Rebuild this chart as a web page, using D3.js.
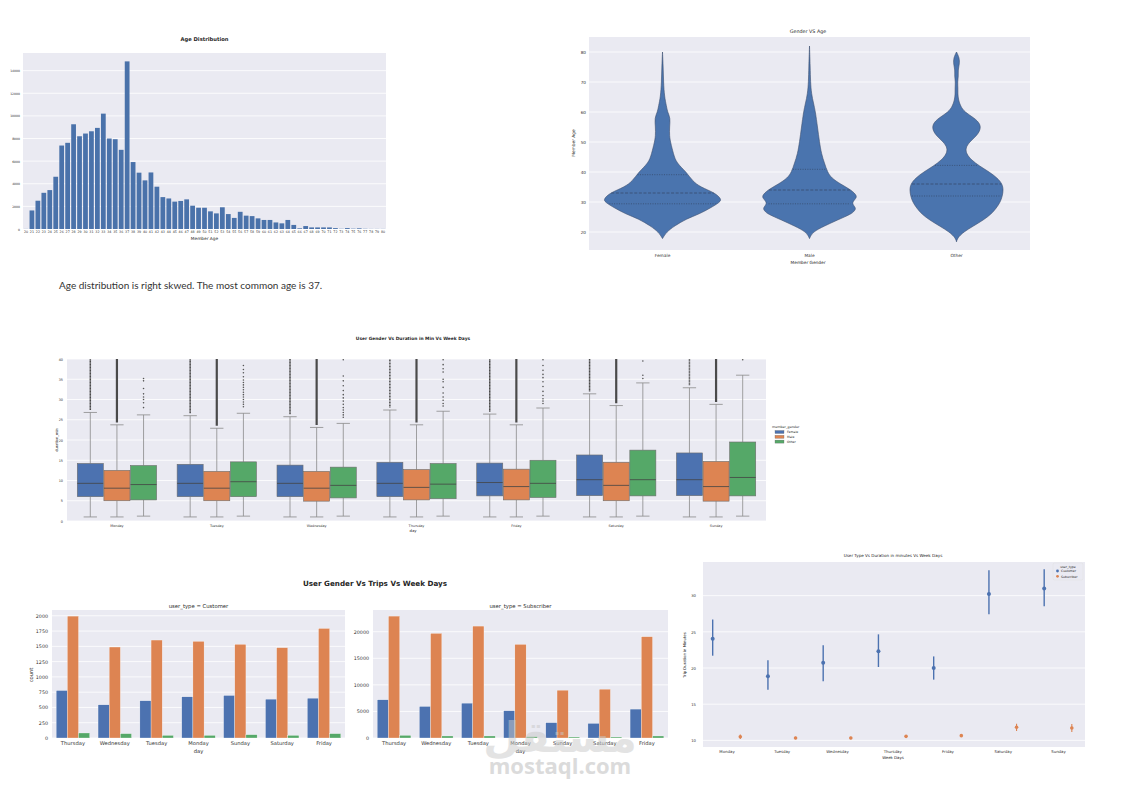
<!DOCTYPE html>
<html><head><meta charset="utf-8">
<script src="https://cdn.jsdelivr.net/npm/d3@7"></script>
<style>body{margin:0;background:#fff}svg{display:block}</style>
</head><body>
<svg id="c" width="1122" height="793"></svg>
<script>
// ---------------- DATA ----------------
// Age distribution
const ageCats = [20,21,22,23,24,25,26,27,28,29,30,31,32,33,34,35,36,37,38,39,40,41,42,43,44,45,46,47,48,49,50,51,52,53,54,55,56,57,58,59,60,61,62,63,64,65,66,67,68,69,70,71,72,73,74,75,76,77,78,79,80];
const ageCounts = [10,1640,2500,3200,3440,4620,7380,7620,9260,8200,8440,8640,8940,10200,8000,7940,7000,14820,5920,4980,4300,5000,3740,2820,2700,2420,2480,2620,2060,1880,1880,1560,1380,1920,1320,980,1520,1180,1140,940,800,800,580,500,800,360,60,260,140,140,140,140,80,20,80,30,60,20,10,10,10];
const ageTicks = [0,2000,4000,6000,8000,10000,12000,14000];

// Gender vs Age violins: [age, relative density]
const genders = ["Female","Male","Other"];
const femaleProfile = [[17.8,0],[20,4],[22,12],[24.4,24],[26,37],[28,48],[30,58],[31,59],[33,53],[35,38],[37,30],[40,24],[43,14],[46,11],[50,8],[52,7],[55,7],[58,8],[60,5],[62,4],[65,2],[70,1],[75,0.7],[80,0]];
const maleProfile = [[17.8,0],[20,3],[22,15],[24,28],[26,42],[27,45],[28,47],[29.5,42],[31,46],[32,48],[34,42],[36,31],[38,22],[40,18],[43,15],[46,12],[50,10],[55,8],[60,6],[63,4],[66,2],[70,1],[75,0.7],[82,0]];
const otherProfile = [[16.7,0],[18,1],[20,7],[22,17],[24,27],[26,35],[28,40],[30,44],[32,46],[34,47],[36,46],[38,41],[40,33],[42,23],[44,15],[46,10],[48,9],[50,13],[52,20],[54,24],[56,24],[58,18],[60,8],[62,4],[64,2],[66,1.3],[68,1.5],[70,1],[72,2],[74,1.5],[76,3],[78,3],[80,0]];
const femaleQuart = [29.4,33,39.1];
const maleQuart = [29.4,34,40.9];
const otherQuart = [32,36,42.2];
const violinTicks = [20,30,40,50,60,70,80];

// Duration boxplots: [low whisker, q1, median, q3, high whisker]
const boxDays = ["Monday","Tuesday","Wednesday","Thursday","Friday","Saturday","Sunday"];
const femaleBox = [[1,6.0,9.3,14.2,26.8],[1,6.0,9.3,14.0,26.0],[1,6.0,9.3,13.8,25.75],[1,6.0,9.3,14.5,27.4],[1,6.2,9.5,14.3,26.4],[1,6.25,10.2,16.3,31.4],[1,6.25,10.2,16.8,32.9]];
const maleBox = [[1,5.0,8.1,12.5,23.75],[1,5.0,8.1,12.25,22.9],[1,4.9,8.1,12.25,23.1],[1,5.2,8.3,12.7,23.75],[1,5.2,8.5,12.8,23.75],[1,5.0,8.8,14.5,28.5],[1,4.9,8.5,14.7,28.8]];
const otherBox = [[1.2,5.2,9.0,13.7,26.2],[1.2,6.0,9.7,14.6,26.6],[1.2,5.7,8.8,13.3,24.1],[1.2,5.5,9.1,14.2,27.1],[1.2,5.8,9.3,15.0,27.9],[1.2,6.2,10.2,17.5,34.1],[1.2,6.2,10.75,19.5,36.0]];
const otherOutliers = [
  [28.0,29.2,30.0,30.6,31.4,32.7,34.6,35.2],
  [28.2,28.8,29.4,30.0,30.6,31.2,31.8,32.4,33.0,33.6,34.2,34.8,35.6,36.6,37.4,38.4],
  [25.6,26.2,26.8,27.4,28.0,28.8,29.6,30.4,31.2,32.2,33.4,34.6,35.8,39.8],
  [28.4,29.0,29.8,30.6,31.6,33.0,34.4,35.0,36.8,37.6,38.6,39.8],
  [29.0,29.6,30.2,31.0,32.0,33.2,34.4,35.4,36.2,37.2,38.4,39.8],
  [35.2,36.0,39.5],
  [39.8]];
const boxTicks = [0,5,10,15,20,25,30,35,40];

// Trips per week day by gender
const barDays = ["Thursday","Wednesday","Tuesday","Monday","Sunday","Saturday","Friday"];
const custFemale = [777,543,609,674,696,636,652];
const custMale = [1995,1489,1603,1582,1533,1478,1793];
const custOther = [82,71,43,43,54,43,71];
const subFemale = [7190,5940,6560,5120,2880,2750,5440];
const subMale = [22940,19690,21060,17620,9000,9190,19060];
const subOther = [500,380,380,250,190,190,380];
const custTicks = [0,250,500,750,1000,1250,1500,1750,2000];
const subTicks = [0,5000,10000,15000,20000];

// User type vs duration point plot
const ptDays = ["Monday","Tuesday","Wednesday","Thursday","Friday","Saturday","Sunday"];
const custMean = [24.05,18.85,20.74,22.3,20.0,30.23,30.97];
const custLo = [21.7,17.0,18.16,20.14,18.39,27.42,28.52];
const custHi = [26.7,21.06,23.13,24.65,21.6,33.5,33.64];
const subMean = [10.5,10.32,10.32,10.55,10.65,11.8,11.7];
const subLo = [10.2,10.15,10.15,10.35,10.45,11.3,11.15];
const subHi = [10.8,10.5,10.5,10.75,10.85,12.3,12.26];
const ptTicks = [10,15,20,25,30];

// ---------------- DRAWING ----------------
const svg = d3.select("#c");
const BG = "#EAEAF2";
const BLUE = "#4C72B0", ORANGE = "#DD8452", GREEN = "#55A868";
const hueColors = [BLUE, ORANGE, GREEN];
const FONT = "'DejaVu Sans', Arial, sans-serif";
const TXT = "#262626";

function frame(x0,y0,x1,y1){
  svg.append("rect").attr("x",x0).attr("y",y0).attr("width",x1-x0).attr("height",y1-y0).attr("fill",BG);
}
function hgrid(y, ticks, x0, x1){
  svg.append("g").selectAll("line").data(ticks).join("line")
    .attr("x1",x0).attr("x2",x1).attr("y1",d=>y(d)).attr("y2",d=>y(d))
    .attr("stroke","#fff").attr("stroke-width",0.8);
}
function label(x,y,s,size,opt={}){
  const t = svg.append("text").attr("x",x).attr("y",y).text(s)
    .attr("font-size",size).attr("font-family",opt.family||FONT)
    .attr("fill",opt.fill||TXT).attr("text-anchor",opt.anchor||"middle")
    .attr("font-weight",opt.weight||"normal");
  if(opt.rotate) t.attr("transform",`rotate(-90,${x},${y})`);
  return t;
}
function yAxis(scale, ticks, x, size, fmt){
  const g = svg.append("g").attr("transform",`translate(${x},0)`)
    .call(d3.axisLeft(scale).tickValues(ticks).tickSize(0).tickPadding(0).tickFormat(fmt||d3.format("d")));
  g.select(".domain").remove();
  g.selectAll("text").attr("font-size",size).attr("font-family",FONT).attr("fill","#333");
}
function xAxis(scale, y, size){
  const g = svg.append("g").attr("transform",`translate(0,${y})`)
    .call(d3.axisBottom(scale).tickSize(0).tickPadding(0));
  g.select(".domain").remove();
  g.selectAll("text").attr("font-size",size).attr("font-family",FONT).attr("fill","#333");
}

// ===== Panel 1: Age Distribution =====
{
  const x0=23,x1=386,y0=53,y1=229;
  frame(x0,y0,x1,y1);
  const x = d3.scaleBand().domain(ageCats).range([x0,x1]).paddingInner(0.2).paddingOuter(0.1);
  const y = d3.scaleLinear().domain([0, d3.max(ageCounts)*1.05]).range([y1,y0]);
  hgrid(y, ageTicks, x0, x1);
  svg.append("g").selectAll("rect").data(ageCats).join("rect")
    .attr("x",d=>x(d)).attr("width",x.bandwidth())
    .attr("y",(d,i)=>y(ageCounts[i])).attr("height",(d,i)=>y1-y(ageCounts[i]))
    .attr("fill","#4A72AA");
  yAxis(y, ageTicks, 20, 3.1);
  xAxis(x, y1+2, 3.3);
  label((x0+x1)/2, 41, "Age Distribution", 5.2, {weight:"bold"});
  label((x0+x1)/2, 240, "Member Age", 4.3);
}
label(59, 289, "Age distribution is right skwed. The most common age is 37.", 10, {anchor:"start", family:"Lato, 'Open Sans', sans-serif", fill:"#333"});

// ===== Panel 2: Gender vs Age violins =====
{
  const x0=589,x1=1030,y0=37,y1=250;
  frame(x0,y0,x1,y1);
  const x = d3.scaleBand().domain(genders).range([x0,x1]);
  const y = d3.scaleLinear().domain([14,85]).range([y1,y0]);
  hgrid(y, violinTicks, x0, x1);
  const w = d3.scaleLinear().domain([0,59]).range([0, x.step()*0.4]);
  const profiles = [femaleProfile, maleProfile, otherProfile];
  const quarts = [femaleQuart, maleQuart, otherQuart];
  genders.forEach((gname,i)=>{
    const cx = x(gname) + x.bandwidth()/2;
    const prof = profiles[i];
    const area = d3.area().curve(d3.curveBasis)
      .y(d=>y(d[0])).x0(d=>cx - w(d[1])).x1(d=>cx + w(d[1]));
    svg.append("path").datum(prof).attr("d",area)
      .attr("fill","#4A74AE").attr("stroke","#3d4f6e").attr("stroke-width",0.6);
    const interp = d3.scaleLinear().domain(prof.map(d=>d[0])).range(prof.map(d=>d[1]));
    quarts[i].forEach((q,k)=>{
      const hw = w(interp(q))*0.97;
      svg.append("line").attr("x1",cx-hw).attr("x2",cx+hw).attr("y1",y(q)).attr("y2",y(q))
        .attr("stroke","#2f3e57").attr("stroke-width",0.6)
        .attr("stroke-dasharray", k===1 ? "3,1.6" : "1,1.4");
    });
  });
  yAxis(y, violinTicks, 586, 4.2);
  xAxis(x, 254, 4.3);
  label(808, 33, "Gender VS Age", 4.8);
  label(808, 264, "Member Gender", 4.3);
  label(575, 143, "Member Age", 4.3, {rotate:true});
}

// ===== Panel 3: Boxplots =====
{
  const x0=67,x1=766,y0=359,y1=521;
  frame(x0,y0,x1,y1);
  const x = d3.scaleBand().domain(boxDays).range([x0,x1]);
  const y = d3.scaleLinear().domain([0,40]).range([y1,y0]);
  hgrid(y, boxTicks, x0, x1);
  const bw = x.step()*0.8/3;
  const stats = [femaleBox, maleBox, otherBox];
  const clipId = "boxclip";
  svg.append("clipPath").attr("id",clipId).append("rect").attr("x",x0).attr("y",y0-1.5).attr("width",x1-x0).attr("height",y1-y0+1.5);
  const g = svg.append("g").attr("clip-path",`url(#${clipId})`);
  const LINE = "#8a8a8a";
  boxDays.forEach((day,di)=>{
    const c = x(day) + x.step()/2;
    stats.forEach((arr,hi)=>{
      const s = arr[di];
      const cx = c + (hi-1)*bw;
      g.append("line").attr("x1",cx).attr("x2",cx).attr("y1",y(s[0])).attr("y2",y(s[1])).attr("stroke",LINE).attr("stroke-width",0.8);
      g.append("line").attr("x1",cx).attr("x2",cx).attr("y1",y(s[3])).attr("y2",y(s[4])).attr("stroke",LINE).attr("stroke-width",0.8);
      [s[0],s[4]].forEach(v=>g.append("line").attr("x1",cx-bw/4).attr("x2",cx+bw/4).attr("y1",y(v)).attr("y2",y(v)).attr("stroke",LINE).attr("stroke-width",0.8));
      g.append("rect").attr("x",cx-bw/2+0.3).attr("width",bw-0.6).attr("y",y(s[3])).attr("height",y(s[1])-y(s[3]))
        .attr("fill",hueColors[hi]).attr("stroke","#6d6d6d").attr("stroke-width",0.6);
      g.append("line").attr("x1",cx-bw/2+0.3).attr("x2",cx+bw/2-0.3).attr("y1",y(s[2])).attr("y2",y(s[2])).attr("stroke","#444").attr("stroke-width",0.8);
      if(hi<2){
        // dense outliers (female / male): overlapping markers form a column up to the axis limit
        g.append("line").attr("x1",cx).attr("x2",cx).attr("y1",y(s[4]+0.6)).attr("y2",y(40))
          .attr("stroke","#4a4a4a").attr("stroke-width",hi===0?1.5:2.2)
          .attr("stroke-dasharray", hi===0 ? "1.2,0.3" : null);
      } else {
        g.append("g").selectAll("circle").data(otherOutliers[di]).join("circle")
          .attr("cx",cx).attr("cy",d=>y(d)).attr("r",0.8)
          .attr("fill","#555");
      }
    });
  });
  yAxis(y, boxTicks, 63, 3.4);
  xAxis(x, 525, 3.4);
  label(413, 340, "User Gender Vs Duration in Min Vs Week Days", 4.4, {weight:"bold"});
  label(413, 532, "day", 3.8);
  label(58, 440, "duration_min", 3.6, {rotate:true});
  label(772, 428, "member_gender", 3.3, {anchor:"start"});
  genders.forEach((gname,i)=>{
    svg.append("rect").attr("x",775).attr("y",430.5+i*4.8).attr("width",9).attr("height",3)
      .attr("fill",hueColors[i]).attr("stroke","#666").attr("stroke-width",0.3);
    label(787, 433.4+i*4.8, gname, 3.1, {anchor:"start"});
  });
}

// ===== Panel 4: Trips facets =====
function barFacet(x0,x1,fem,mal,oth,ticks,title,tickX){
  const y0=610,y1=738;
  frame(x0,y0,x1,y1);
  const x = d3.scaleBand().domain(barDays).range([x0,x1]).paddingInner(0.2).paddingOuter(0.1);
  const maxV = d3.max([d3.max(fem),d3.max(mal),d3.max(oth)]);
  const y = d3.scaleLinear().domain([0,maxV*1.05]).range([y1,y0]);
  hgrid(y, ticks, x0, x1);
  const sub = d3.scaleBand().domain([0,1,2]).range([0,x.bandwidth()]);
  [fem,mal,oth].forEach((vals,hi)=>{
    svg.append("g").selectAll("rect").data(barDays).join("rect")
      .attr("x",d=>x(d)+sub(hi)).attr("width",sub.bandwidth())
      .attr("y",(d,i)=>y(vals[i])).attr("height",(d,i)=>y1-y(vals[i]))
      .attr("fill",hueColors[hi]).attr("stroke","#fff").attr("stroke-width",0.3);
  });
  yAxis(y, ticks, tickX, 4.8);
  xAxis(x, 741, 5.2);
  label((x0+x1)/2, 608, title, 5.3);
  label((x0+x1)/2, 753, "day", 5.2);
}
barFacet(52,345,custFemale,custMale,custOther,custTicks,"user_type = Customer",48);
barFacet(373,668,subFemale,subMale,subOther,subTicks,"user_type = Subscriber",369);
label(33, 675, "count", 5.2, {rotate:true});
label(375, 586, "User Gender Vs Trips Vs Week Days", 7.2, {weight:"bold"});

// ===== Panel 5: Point plot =====
{
  const x0=703,x1=1085,y0=562,y1=747;
  frame(x0,y0,x1,y1);
  const x = d3.scalePoint().domain(ptDays).range([726.5,1058]);
  const y = d3.scaleLinear().domain([9.08,34.65]).range([y1,y0]);
  hgrid(y, ptTicks, x0, x1);
  const off = x.step()*0.25;
  ptDays.forEach((d,i)=>{
    const cx = x(d)-off;
    svg.append("line").attr("x1",cx).attr("x2",cx).attr("y1",y(custLo[i])).attr("y2",y(custHi[i])).attr("stroke",BLUE).attr("stroke-width",1.4);
    svg.append("circle").attr("cx",cx).attr("cy",y(custMean[i])).attr("r",2).attr("fill",BLUE);
    const sx = x(d)+off;
    svg.append("line").attr("x1",sx).attr("x2",sx).attr("y1",y(subLo[i])).attr("y2",y(subHi[i])).attr("stroke",ORANGE).attr("stroke-width",1.1);
    svg.append("circle").attr("cx",sx).attr("cy",y(subMean[i])).attr("r",1.8).attr("fill",ORANGE);
  });
  yAxis(y, ptTicks, 696, 3.8);
  xAxis(x, 750, 3.9);
  label(893, 557, "User Type Vs Duration in minutes Vs Week Days", 4.1);
  label(893, 759, "Week Days", 3.9);
  label(686, 655, "Trip Duration in Minutes", 3.8, {rotate:true});
  svg.append("rect").attr("x",1053).attr("y",563).attr("width",30).attr("height",17).attr("rx",1.5)
    .attr("fill","#EAEAF2").attr("stroke","#ddd").attr("stroke-width",0.4);
  label(1068, 568, "user_type", 3.2);
  [["Customer",BLUE],["Subscriber",ORANGE]].forEach(([nm,col],i)=>{
    svg.append("circle").attr("cx",1057.5).attr("cy",571+i*5.3).attr("r",1.4).attr("fill",col);
    label(1061, 572.2+i*5.3, nm, 3.1, {anchor:"start"});
  });
}

// ===== watermark =====
svg.append("text").attr("x",560).attr("y",752).attr("text-anchor","middle")
  .attr("font-family","'DejaVu Sans', sans-serif").attr("font-weight","bold").attr("font-size",42)
  .attr("fill","#c8c8c8").attr("opacity",0.5).attr("direction","rtl").text("مستقل");
svg.append("text").attr("x",560).attr("y",774).attr("text-anchor","middle")
  .attr("font-family","'Open Sans', 'DejaVu Sans', sans-serif").attr("font-weight","bold").attr("font-size",22)
  .attr("fill","#c8c8c8").attr("opacity",0.65).text("mostaql.com");
</script>
</body></html>
